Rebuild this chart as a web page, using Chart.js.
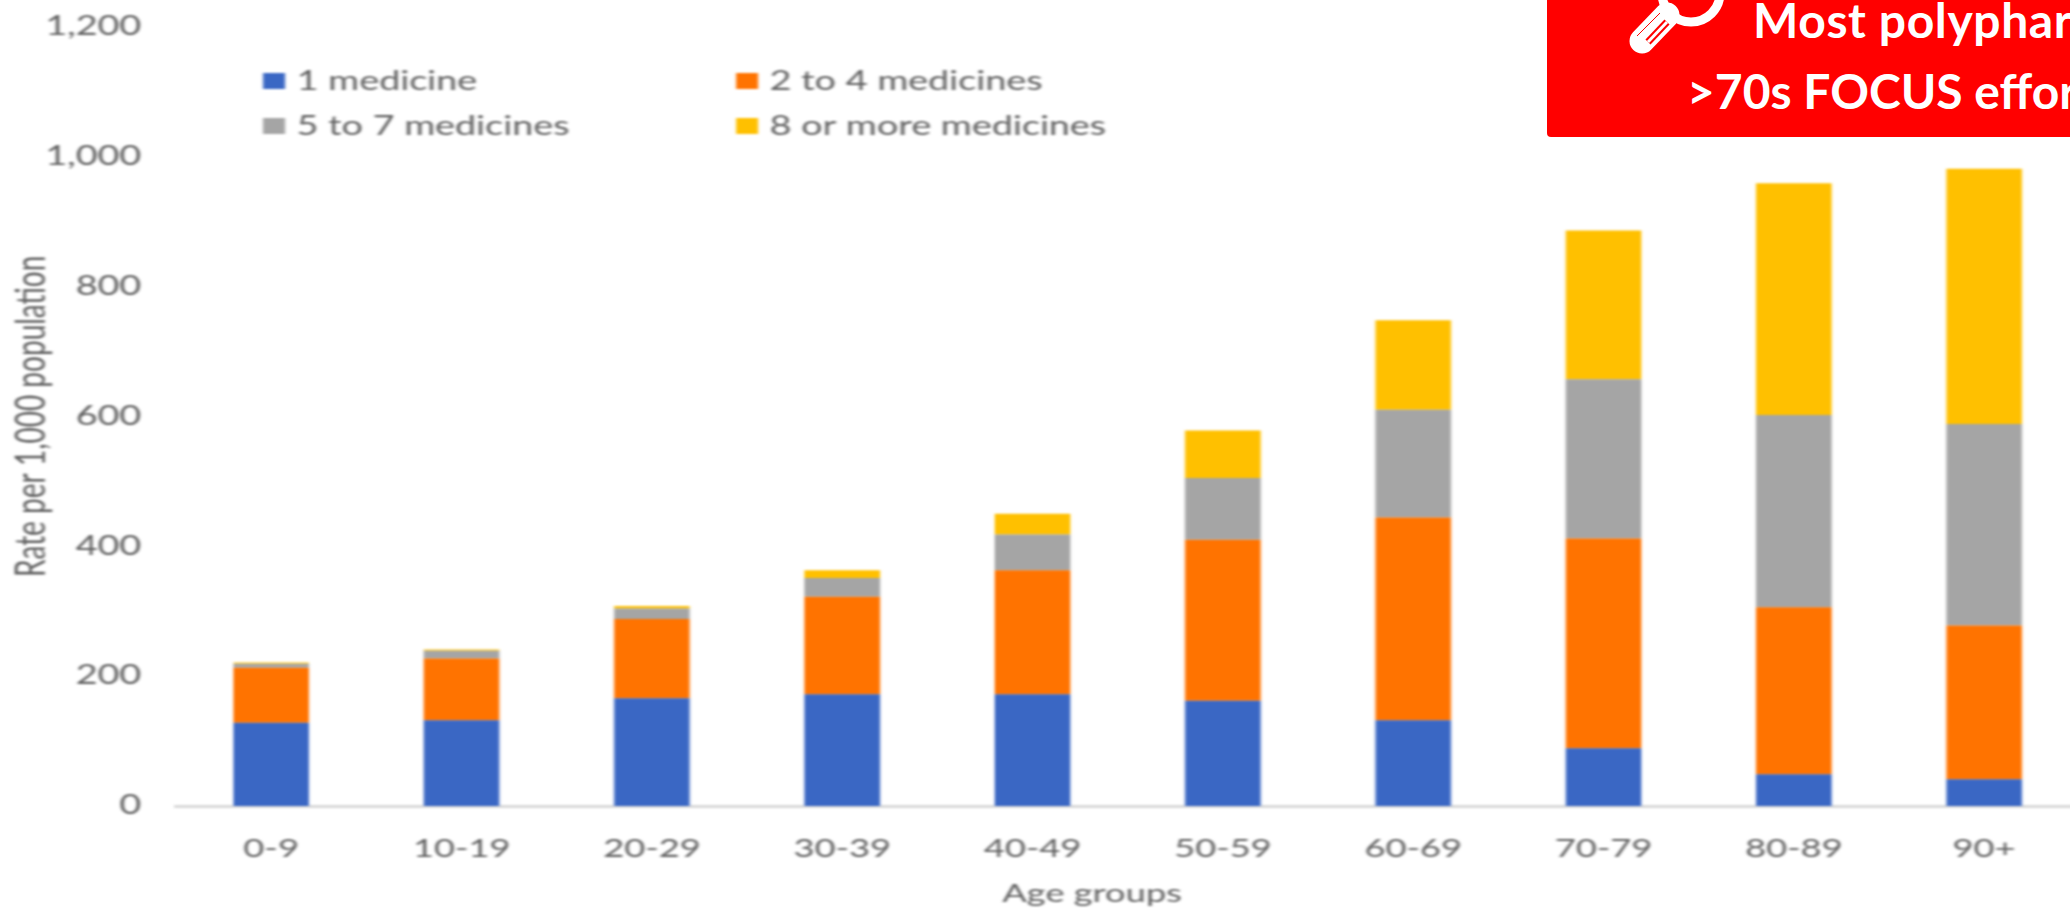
<!DOCTYPE html>
<html>
<head>
<meta charset="utf-8">
<script src="https://cdn.jsdelivr.net/npm/chart.js@4"></script>
<style>
  html, body { margin: 0; padding: 0; width: 2070px; height: 912px; overflow: hidden; background: #fff; }
  #stage { position: absolute; left: 0; top: 0; width: 2070px; height: 912px; overflow: hidden; }
  /* The chart is laid out narrow and widened as a whole, so glyphs stretch with the bars.
     It starts above the page so the 1,200 tick sits close to the top edge. */
  #chart { position: absolute; left: 0; top: -13px; transform-origin: 0 0; transform: scaleX(1.45); filter: blur(1px); }
  #callout { position: absolute; left: 1547px; top: -10px; width: 560px; height: 147px; background: #ff0000; border-radius: 4px; overflow: hidden; }
  #callout span { position: absolute; font: 700 48px/1 Lato, sans-serif; color: #fff; white-space: nowrap; }
  #line1 { left: 206px; top: 6px; letter-spacing: 0.6px; }
  #line2 { left: 140px; top: 77px; }
  #glass { position: absolute; left: 0; top: 0; }
</style>
</head>
<body>
<div id="stage">
  <canvas id="chart" width="1440" height="926"></canvas>
  <div id="callout">
    <svg id="glass" width="220" height="147">
      <g transform="translate(-1547 10)">
        <circle cx="1691" cy="-7" r="29" fill="none" stroke="#fff" stroke-width="9"/>
        <line x1="1642" y1="41" x2="1667" y2="15" stroke="#fff" stroke-width="25" stroke-linecap="round"/>
        <line x1="1637" y1="36" x2="1660" y2="13" stroke="#ff0000" stroke-width="1"/>
        <line x1="1648" y1="42" x2="1667" y2="22" stroke="#ff0000" stroke-width="7"/>
        <line x1="1648" y1="42" x2="1667" y2="22" stroke="#fff" stroke-width="3"/>
      </g>
    </svg>
    <span id="line1">Most polypharmacy</span>
    <span id="line2">&gt;70s FOCUS efforts</span>
  </div>
</div>
<script>
const ageGroups = ['0-9','10-19','20-29','30-39','40-49','50-59','60-69','70-79','80-89','90+'];
const oneMedicine    = [128,132,166,172,172,162,132, 89, 49, 41];
const twoToFour      = [ 85, 95,122,150,191,248,312,323,257,237];
const fiveToSeven    = [  6, 12, 16, 29, 55, 95,166,245,296,310];
const eightOrMore    = [  2,  2,  4, 12, 32, 73,138,229,357,393];
const seriesNames    = ['1 medicine','2 to 4 medicines','5 to 7 medicines','8 or more medicines'];
const seriesColours  = ['#3a67c4','#ff7300','#a5a5a5','#ffc000'];
const axisTitleX = 'Age groups';
const axisTitleY = 'Rate per 1,000 population';

const WIDEN = 1.45;
const canvas = document.getElementById('chart');
const textColour = '#5f5f5f';

// Two-column legend laid over the upper-left of the plot, plus the x caption,
// which sits left of the plot's centre.
const chartNotes = {
  id: 'chartNotes',
  afterDraw(chart) {
    const ctx = chart.ctx;
    const cols = [263 / WIDEN, 736 / WIDEN];
    const rows = [94, 139];
    const swatchW = 22 / WIDEN, swatchH = 16;
    ctx.save();
    ctx.font = '26px Lato, sans-serif';
    ctx.textBaseline = 'middle';
    chart.data.datasets.forEach((ds, i) => {
      const x = cols[i % 2], y = rows[Math.floor(i / 2)];
      ctx.fillStyle = ds.backgroundColor;
      ctx.fillRect(x, y - swatchH / 2, swatchW, swatchH);
      ctx.fillStyle = textColour;
      ctx.fillText(ds.label, x + swatchW + 8, y + 1);
    });
    ctx.font = '25px Lato, sans-serif';
    ctx.textAlign = 'center';
    ctx.fillText(axisTitleX, 1092 / WIDEN, 907);
    ctx.restore();
  }
};

new Chart(canvas, {
  type: 'bar',
  data: {
    labels: ageGroups,
    datasets: [oneMedicine, twoToFour, fiveToSeven, eightOrMore].map((values, i) => ({
      label: seriesNames[i],
      data: values,
      backgroundColor: seriesColours[i],
      barPercentage: 0.397,
      categoryPercentage: 1
    }))
  },
  options: {
    responsive: false,
    animation: false,
    devicePixelRatio: 1,
    layout: { padding: { top: 11, right: 6, bottom: 0, left: 0 } },
    plugins: { legend: { display: false }, tooltip: { enabled: false } },
    scales: {
      x: {
        stacked: true,
        grid: { display: false, drawTicks: false },
        border: { color: '#d9d9d9', width: 3 },
        ticks: { color: textColour, font: { family: 'Lato, sans-serif', size: 25 }, padding: 28, maxRotation: 0 },
        afterFit(scale) { scale.height = 107; }
      },
      y: {
        stacked: true,
        min: 0,
        max: 1200,
        grid: { display: false, drawTicks: false },
        border: { display: false },
        ticks: { stepSize: 200, color: textColour, font: { family: 'Lato, sans-serif', size: 26 }, padding: 24 },
        title: { display: true, text: axisTitleY, color: textColour, font: { family: 'Lato, sans-serif', size: 28 }, padding: { top: 5, bottom: 0 } },
        afterFit(scale) { scale.width = 176 / WIDEN; }
      }
    }
  },
  plugins: [chartNotes]
});
</script>
</body>
</html>
